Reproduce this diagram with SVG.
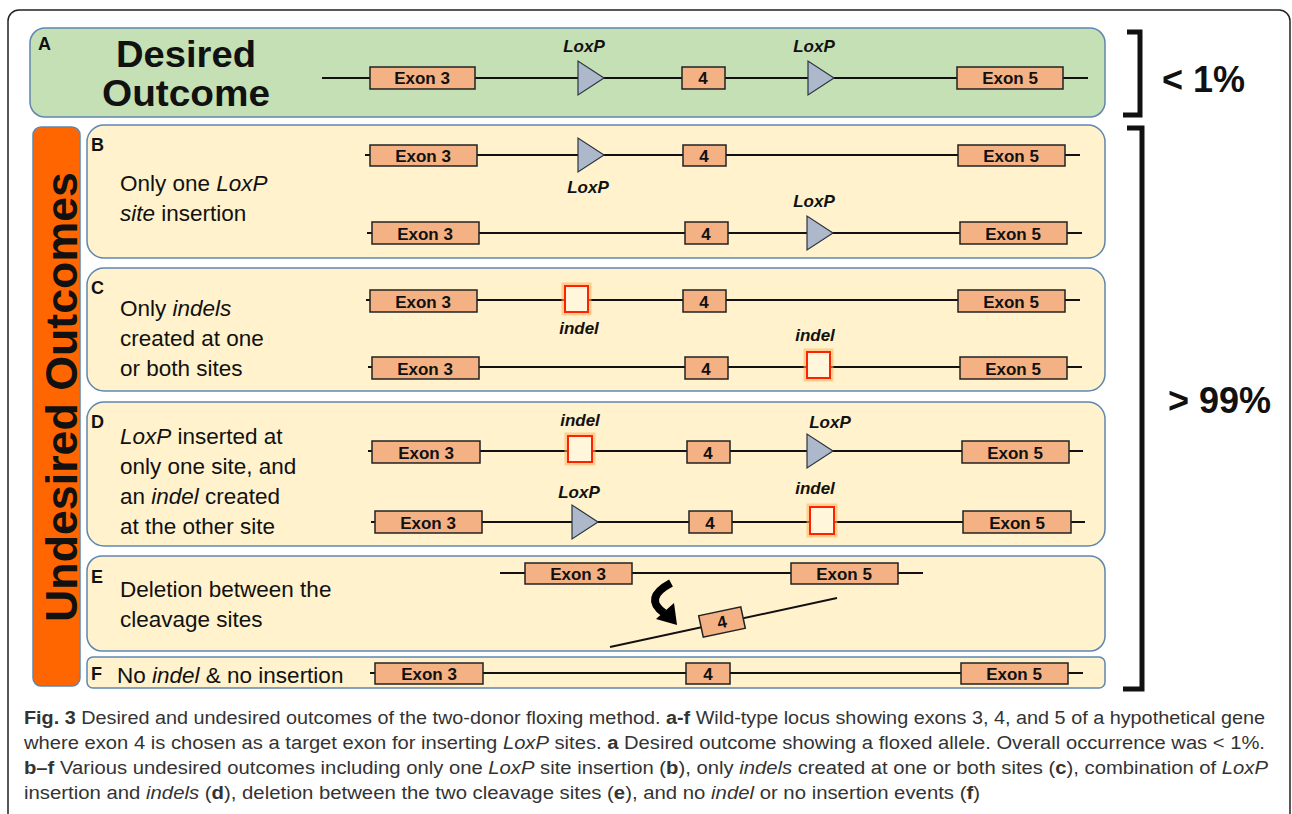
<svg xmlns="http://www.w3.org/2000/svg" width="1292" height="814" viewBox="0 0 1292 814">
<defs>
<style>
.frame{fill:#fff;stroke:#222;stroke-width:1.5}
.pa{fill:#C5E0B4;stroke:#5F86B0;stroke-width:1.5}
.pu{fill:#FFF2CC;stroke:#5F86B0;stroke-width:1.5}
.bar{fill:#FF6600;stroke:#5F86B0;stroke-width:1.5}
.ln{stroke:#111;stroke-width:2;fill:none}
.ex{fill:#F4B183;stroke:#222;stroke-width:1.5}
.lox{fill:#ADB9CA;stroke:#2B3440;stroke-width:1.2}
.ind{fill:#FFF6DC;stroke:#FF2200;stroke-width:2}
.glow{fill:none;stroke:#FFB060;stroke-width:7;opacity:0.55}
.et{font-family:"Liberation Sans",Arial,sans-serif;font-weight:bold;font-size:17px;fill:#111;text-anchor:middle}
.lab{font-family:"Liberation Sans",Arial,sans-serif;font-weight:bold;font-style:italic;font-size:17px;fill:#111;text-anchor:middle}
.pl{font-family:"Liberation Sans",Arial,sans-serif;font-weight:bold;font-size:18px;fill:#111}
.desc{font-family:"Liberation Sans",Arial,sans-serif;font-size:22.5px;fill:#111}
.big{font-family:"Liberation Sans",Arial,sans-serif;font-weight:bold;font-size:37px;fill:#111;text-anchor:middle}
.pct{font-family:"Liberation Sans",Arial,sans-serif;font-weight:bold;font-size:36px;fill:#111}
.cap{font-family:"Liberation Sans",Arial,sans-serif;font-size:18px;fill:#333}
.brk{fill:none;stroke:#111;stroke-width:5}
</style>
</defs>
<rect class="frame" x="8" y="10" width="1282" height="830" rx="11"/>

<!-- panel backgrounds -->
<g id="panel-A"><rect class="pa" x="30" y="28" width="1075" height="89" rx="15"/></g>
<g id="undesired-bar"><rect class="bar" x="33" y="127" width="47" height="559" rx="8"/>
<text transform="translate(77,397) rotate(-90)" font-family="Liberation Sans,Arial,sans-serif" font-weight="bold" font-size="45" fill="#111" text-anchor="middle" textLength="450" lengthAdjust="spacingAndGlyphs">Undesired Outcomes</text></g>
<g id="panel-B"><rect class="pu" x="87" y="125" width="1018" height="133" rx="17"/></g>
<g id="panel-C"><rect class="pu" x="87" y="268" width="1018" height="123" rx="17"/></g>
<g id="panel-D"><rect class="pu" x="87" y="402" width="1018" height="144" rx="17"/></g>
<g id="panel-E"><rect class="pu" x="87" y="556" width="1018" height="95" rx="15"/></g>
<g id="panel-F"><rect class="pu" x="87" y="657" width="1018" height="31" rx="6"/></g>

<!-- connectors: genomic lines -->
<g id="connectors">
<line class="ln" x1="322" y1="78" x2="1088" y2="78"/>
<line class="ln" x1="365" y1="155" x2="1080" y2="155"/>
<line class="ln" x1="367" y1="233" x2="1082" y2="233"/>
<line class="ln" x1="366" y1="300" x2="1080" y2="300"/>
<line class="ln" x1="368" y1="367" x2="1082" y2="367"/>
<line class="ln" x1="368" y1="451" x2="1083" y2="451"/>
<line class="ln" x1="371" y1="522" x2="1085" y2="522"/>
<line class="ln" x1="500" y1="573" x2="923" y2="573"/>
<line class="ln" x1="610" y1="647" x2="837" y2="598"/>
<line class="ln" x1="370" y1="673" x2="1083" y2="673"/>
</g>

<!-- Panel A content -->
<g id="A-content">
<text class="pl" x="38" y="50">A</text>
<text class="big" x="186" y="67" textLength="140" lengthAdjust="spacingAndGlyphs">Desired</text>
<text class="big" x="186" y="106" textLength="168" lengthAdjust="spacingAndGlyphs">Outcome</text>
<rect class="ex" x="370" y="67" width="105" height="22"/><text class="et" x="422" y="84">Exon 3</text>
<polygon class="lox" points="578,61 578,95 604,78"/><text class="lab" x="584" y="52">LoxP</text>
<rect class="ex" x="682" y="67" width="43" height="22"/><text class="et" x="703" y="84">4</text>
<polygon class="lox" points="808,61 808,95 834,78"/><text class="lab" x="814" y="52">LoxP</text>
<rect class="ex" x="957" y="67" width="106" height="22"/><text class="et" x="1010" y="84">Exon 5</text>
</g>

<!-- Brackets -->
<g id="bracket-1">
<path class="brk" d="M1127,32 H1140 V115 H1123"/>
<text class="pct" x="1162" y="92">&lt; 1%</text>
</g>
<g id="bracket-2">
<path class="brk" d="M1127,128 H1142 V689 H1123"/>
<text class="pct" x="1168" y="413">&gt; 99%</text>
</g>

<!-- Panel B -->
<g id="B-content">
<text class="pl" x="91" y="151">B</text>
<text class="desc" x="120" y="191">Only one <tspan font-style="italic">LoxP</tspan></text>
<text class="desc" x="120" y="221"><tspan font-style="italic">site</tspan> insertion</text>
<rect class="ex" x="370" y="145" width="107" height="21"/><text class="et" x="423" y="162">Exon 3</text>
<polygon class="lox" points="578,138 578,172 604,155"/><text class="lab" x="588" y="193">LoxP</text>
<rect class="ex" x="683" y="145" width="43" height="21"/><text class="et" x="704" y="162">4</text>
<rect class="ex" x="958" y="145" width="107" height="21"/><text class="et" x="1011" y="162">Exon 5</text>
<rect class="ex" x="372" y="222" width="107" height="22"/><text class="et" x="425" y="240">Exon 3</text>
<rect class="ex" x="685" y="222" width="43" height="22"/><text class="et" x="706" y="240">4</text>
<polygon class="lox" points="807,216 807,250 833,233"/><text class="lab" x="814" y="207">LoxP</text>
<rect class="ex" x="960" y="222" width="107" height="22"/><text class="et" x="1013" y="240">Exon 5</text>
</g>

<!-- Panel C -->
<g id="C-content">
<text class="pl" x="91" y="294">C</text>
<text class="desc" x="120" y="316">Only <tspan font-style="italic">indels</tspan></text>
<text class="desc" x="120" y="346">created at one</text>
<text class="desc" x="120" y="376">or both sites</text>
<rect class="ex" x="370" y="290" width="107" height="22"/><text class="et" x="423" y="308">Exon 3</text>
<rect class="glow" x="565" y="286" width="23" height="26"/><rect class="ind" x="565" y="286" width="23" height="26"/>
<text class="lab" x="579" y="334">indel</text>
<rect class="ex" x="683" y="290" width="43" height="22"/><text class="et" x="704" y="308">4</text>
<rect class="ex" x="958" y="290" width="107" height="22"/><text class="et" x="1011" y="308">Exon 5</text>
<rect class="ex" x="372" y="357" width="107" height="22"/><text class="et" x="425" y="375">Exon 3</text>
<rect class="ex" x="685" y="357" width="43" height="22"/><text class="et" x="706" y="375">4</text>
<rect class="glow" x="807" y="352" width="23" height="26"/><rect class="ind" x="807" y="352" width="23" height="26"/>
<text class="lab" x="815" y="341">indel</text>
<rect class="ex" x="960" y="357" width="107" height="22"/><text class="et" x="1013" y="375">Exon 5</text>
</g>

<!-- Panel D -->
<g id="D-content">
<text class="pl" x="91" y="428">D</text>
<text class="desc" x="120" y="444"><tspan font-style="italic">LoxP</tspan> inserted at</text>
<text class="desc" x="120" y="474">only one site, and</text>
<text class="desc" x="120" y="504">an  <tspan font-style="italic">indel</tspan> created</text>
<text class="desc" x="120" y="534">at the other site</text>
<rect class="ex" x="372" y="441" width="108" height="22"/><text class="et" x="426" y="459">Exon 3</text>
<rect class="glow" x="568" y="436" width="24" height="26"/><rect class="ind" x="568" y="436" width="24" height="26"/>
<text class="lab" x="580" y="426">indel</text>
<rect class="ex" x="687" y="441" width="43" height="22"/><text class="et" x="708" y="459">4</text>
<polygon class="lox" points="807,434 807,468 833,451"/><text class="lab" x="830" y="428">LoxP</text>
<rect class="ex" x="962" y="441" width="107" height="22"/><text class="et" x="1015" y="459">Exon 5</text>
<rect class="ex" x="375" y="511" width="107" height="22"/><text class="et" x="428" y="529">Exon 3</text>
<polygon class="lox" points="572,505 572,539 598,522"/><text class="lab" x="579" y="498">LoxP</text>
<rect class="ex" x="689" y="511" width="43" height="22"/><text class="et" x="710" y="529">4</text>
<rect class="glow" x="810" y="507" width="24" height="27"/><rect class="ind" x="810" y="507" width="24" height="27"/>
<text class="lab" x="815" y="494">indel</text>
<rect class="ex" x="963" y="511" width="108" height="22"/><text class="et" x="1017" y="529">Exon 5</text>
</g>

<!-- Panel E -->
<g id="E-content">
<text class="pl" x="91" y="583">E</text>
<text class="desc" x="120" y="597">Deletion between the</text>
<text class="desc" x="120" y="627">cleavage sites</text>
<rect class="ex" x="525" y="563" width="107" height="21"/><text class="et" x="578" y="580">Exon 3</text>
<rect class="ex" x="791" y="563" width="107" height="21"/><text class="et" x="844" y="580">Exon 5</text>
<g transform="translate(722,622) rotate(-12)">
<rect class="ex" x="-21.5" y="-11" width="43" height="22"/><text class="et" x="0" y="6">4</text>
</g>
<path d="M671,583 Q643,598 664,613" fill="none" stroke="#000" stroke-width="8"/>
<polygon points="656,619 677,625 674,603" fill="#000"/>
</g>

<!-- Panel F -->
<g id="F-content">
<text class="pl" x="91" y="680">F</text>
<text class="desc" x="117" y="683">No <tspan font-style="italic">indel</tspan> &amp; no insertion</text>
<rect class="ex" x="375" y="663" width="108" height="21"/><text class="et" x="429" y="680">Exon 3</text>
<rect class="ex" x="686" y="663" width="44" height="21"/><text class="et" x="708" y="680">4</text>
<rect class="ex" x="961" y="663" width="107" height="21"/><text class="et" x="1014" y="680">Exon 5</text>
</g>

<!-- Caption -->
<g id="caption">
<text class="cap" x="24" y="724" textLength="1241" lengthAdjust="spacingAndGlyphs"><tspan font-weight="bold">Fig. 3</tspan> Desired and undesired outcomes of the two-donor floxing method. <tspan font-weight="bold">a-f</tspan> Wild-type locus showing exons 3, 4, and 5 of a hypothetical gene</text>
<text class="cap" x="24" y="749" textLength="1241" lengthAdjust="spacingAndGlyphs">where exon 4 is chosen as a target exon for inserting <tspan font-style="italic">LoxP</tspan> sites. <tspan font-weight="bold">a</tspan> Desired outcome showing a floxed allele. Overall occurrence was &lt; 1%.</text>
<text class="cap" x="24" y="774" textLength="1244" lengthAdjust="spacingAndGlyphs"><tspan font-weight="bold">b–f</tspan> Various undesired outcomes including only one <tspan font-style="italic">LoxP</tspan> site insertion (<tspan font-weight="bold">b</tspan>), only <tspan font-style="italic">indels</tspan> created at one or both sites (<tspan font-weight="bold">c</tspan>), combination of <tspan font-style="italic">LoxP</tspan></text>
<text class="cap" x="24" y="799" textLength="956" lengthAdjust="spacingAndGlyphs">insertion and <tspan font-style="italic">indels</tspan> (<tspan font-weight="bold">d</tspan>), deletion between the two cleavage sites (<tspan font-weight="bold">e</tspan>), and no <tspan font-style="italic">indel</tspan> or no insertion events (<tspan font-weight="bold">f</tspan>)</text>
</g>
</svg>
